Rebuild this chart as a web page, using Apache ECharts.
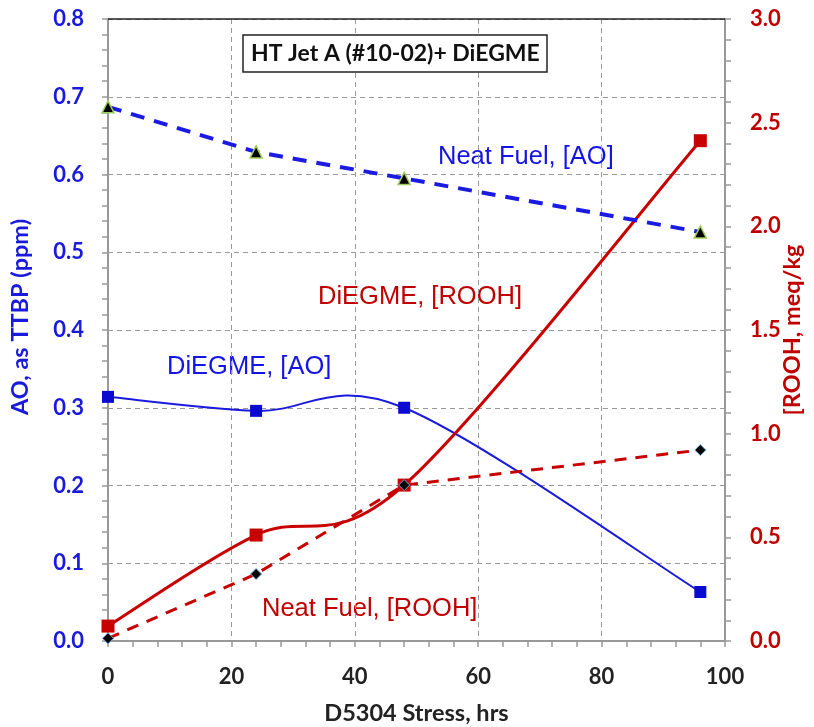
<!DOCTYPE html>
<html><head><meta charset="utf-8">
<script src="https://cdn.jsdelivr.net/npm/echarts@6/dist/echarts.min.js"></script>
<style>html,body{margin:0;padding:0;background:#fff}#c{width:814px;height:727px}</style>
</head><body><div id="c"></div>
<script>
var hours = [0, 24, 48, 96];
var neatAO = [0.687, 0.629, 0.595, 0.526];
var diegmeAO = [0.314, 0.296, 0.300, 0.063];
var diegmeROOH = [0.072, 0.511, 0.752, 2.413];
var neatROOH = [0.013, 0.323, 0.752, 0.921];
var xTicks = [0, 20, 40, 60, 80, 100];

function pairs(xs, ys){ return xs.map(function(x,i){return [x, ys[i]];}); }

// Excel-like smoothed line: Catmull-Rom segments converted to cubic Bezier,
// with all points mapped through the chart's own axes (api.coord).
function smoothRenderer(xs, ys, color, width){
  return function(params, api){
    var i = params.dataIndex, n = xs.length;
    if (i >= n - 1) return null;
    function P(j){ j = Math.max(0, Math.min(n-1, j)); return api.coord([xs[j], ys[j]]); }
    var p0 = P(i-1), p1 = P(i), p2 = P(i+1), p3 = P(i+2);
    return {
      type:'bezierCurve',
      shape:{
        x1:p1[0], y1:p1[1], x2:p2[0], y2:p2[1],
        cpx1:p1[0] + (p2[0]-p0[0])/6, cpy1:p1[1] + (p2[1]-p0[1])/6,
        cpx2:p2[0] - (p3[0]-p1[0])/6, cpy2:p2[1] - (p3[1]-p1[1])/6
      },
      style:{stroke:color, lineWidth:width, fill:null}
    };
  };
}

var chart = echarts.init(document.getElementById('c'));
var tickFont = {fontFamily:'Lato', fontWeight:'bold', fontSize:22};
var nameFont = {fontFamily:'Lato', fontWeight:'bold', fontSize:23.5};
chart.setOption({
  animation:false,
  grid:{left:108, right:89, top:19, bottom:86, containLabel:false, outerBoundsMode:'none'},
  title:{
    text:'HT Jet A (#10-02)+ DiEGME', left:243, top:35,
    padding:[7,7,7,8], borderColor:'#222', borderWidth:1.5, backgroundColor:'#fff',
    textStyle:{fontFamily:'Lato', fontWeight:'bold', fontSize:23, color:'#111'}
  },
  xAxis:{
    type:'value', min:0, max:100, interval:20,
    name:'D5304 Stress, hrs', nameLocation:'middle', nameGap:60, nameMoveOverlap:false,
    nameTextStyle:Object.assign({color:'#222'}, nameFont),
    axisLine:{show:true, lineStyle:{color:'#999', width:2}},
    axisTick:{show:true, length:6, lineStyle:{color:'#999', width:1.5}},
    minorTick:{show:true, splitNumber:5, length:6, lineStyle:{color:'#999', width:1.5}},
    splitLine:{show:true, lineStyle:{color:'#999', type:[5,4], width:1}},
    axisLabel:Object.assign({color:'#222', margin:25, formatter:function(v){return xTicks.indexOf(v)>=0?String(v):'';}}, tickFont)
  },
  yAxis:[{
    type:'value', min:0, max:0.8, interval:0.1, position:'left',
    name:'AO, as TTBP (ppm)', nameLocation:'middle', nameGap:76, nameRotate:90, nameMoveOverlap:false,
    nameTextStyle:Object.assign({color:'#1a1adc', padding:[0,0,0,26]}, nameFont),
    axisLine:{show:true, lineStyle:{color:'#999', width:2}},
    axisTick:{show:true, length:6, lineStyle:{color:'#999', width:1.5}},
    minorTick:{show:true, splitNumber:5, length:6, lineStyle:{color:'#999', width:1.5}},
    splitLine:{show:true, lineStyle:{color:'#999', type:[5,4], width:1}},
    axisLabel:Object.assign({color:'#1a1adc', margin:24, formatter:function(v){return v.toFixed(1);}}, tickFont)
  },{
    type:'value', min:0, max:3.0, interval:0.5, position:'right',
    name:'[ROOH, meq/kg', nameLocation:'middle', nameGap:55, nameRotate:90, nameMoveOverlap:false,
    nameTextStyle:Object.assign({color:'#c00000'}, nameFont),
    axisLine:{show:true, lineStyle:{color:'#999', width:2}},
    axisTick:{show:true, length:6, lineStyle:{color:'#999', width:1.5}},
    minorTick:{show:true, splitNumber:5, length:6, lineStyle:{color:'#999', width:1.5}},
    splitLine:{show:false},
    axisLabel:Object.assign({color:'#c00000', margin:25, formatter:function(v){return v.toFixed(1);}}, tickFont)
  }],
  graphic:[
    {type:'line', shape:{x1:108, y1:19, x2:725, y2:19}, style:{stroke:'#222', lineWidth:1.5}, z:5},
    {type:'text', x:438, y:157, style:{text:'Neat Fuel, [AO]', fill:'#1414e6', font:'25.5px "Liberation Sans"', textVerticalAlign:'middle'}},
    {type:'text', x:318, y:297, style:{text:'DiEGME, [ROOH]', fill:'#c00000', font:'25.5px "Liberation Sans"', textVerticalAlign:'middle'}},
    {type:'text', x:167, y:367, style:{text:'DiEGME, [AO]', fill:'#1414e6', font:'25.5px "Liberation Sans"', textVerticalAlign:'middle'}},
    {type:'text', x:262, y:609, style:{text:'Neat Fuel, [ROOH]', fill:'#c00000', font:'25.5px "Liberation Sans"', textVerticalAlign:'middle'}}
  ],
  series:[{
    name:'Neat Fuel, [AO]', type:'line', yAxisIndex:0, data:pairs(hours, neatAO),
    lineStyle:{color:'#1a1ae0', width:4, type:[14,10]},
    symbol:'triangle', symbolSize:12, z:3,
    itemStyle:{color:'#000', borderColor:'#9acd5a', borderWidth:1.5}
  },{
    name:'DiEGME, [AO] curve', type:'custom', yAxisIndex:0, data:pairs(hours, diegmeAO),
    renderItem:smoothRenderer(hours, diegmeAO, '#1a1adc', 2), z:2
  },{
    name:'DiEGME, [AO]', type:'scatter', yAxisIndex:0, data:pairs(hours, diegmeAO),
    symbol:'rect', symbolSize:12, z:4,
    itemStyle:{color:'#0a0ad0', opacity:1}
  },{
    name:'DiEGME, [ROOH] curve', type:'custom', yAxisIndex:1, data:pairs(hours, diegmeROOH),
    renderItem:smoothRenderer(hours, diegmeROOH, '#c80000', 3), z:2
  },{
    name:'DiEGME, [ROOH]', type:'scatter', yAxisIndex:1, data:pairs(hours, diegmeROOH),
    symbol:'rect', symbolSize:13, z:4,
    itemStyle:{color:'#c80000', opacity:1}
  },{
    name:'Neat Fuel, [ROOH]', type:'line', yAxisIndex:1, data:pairs(hours, neatROOH),
    lineStyle:{color:'#c80000', width:3, type:[12,9]},
    symbol:'diamond', symbolSize:11, z:5,
    itemStyle:{color:'#000', borderColor:'#6aa8e0', borderWidth:1}
  }]
});
</script></body></html>
